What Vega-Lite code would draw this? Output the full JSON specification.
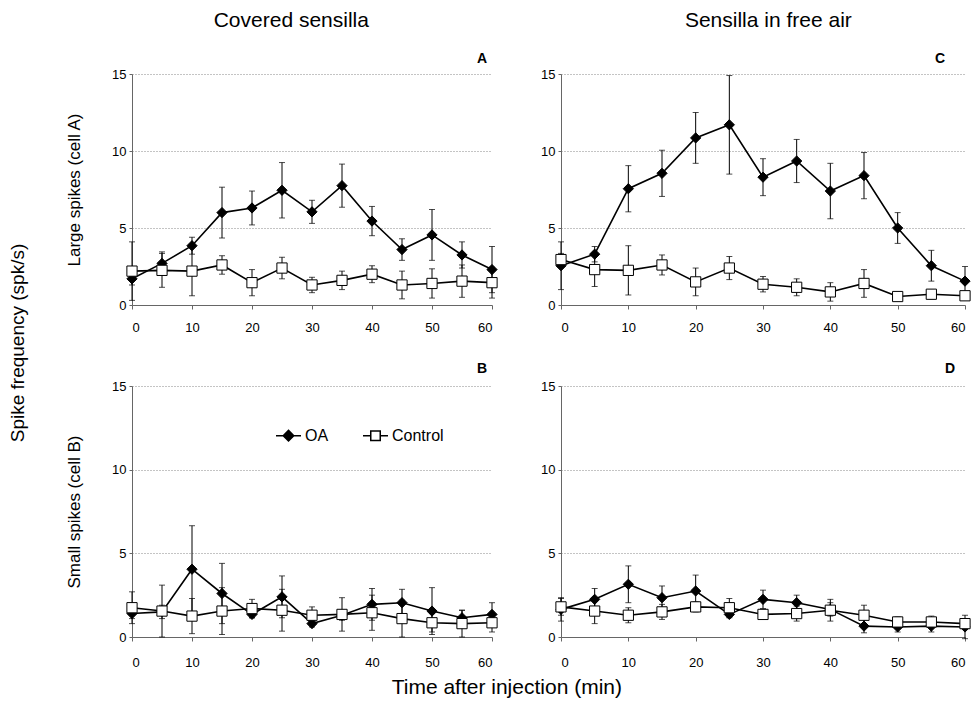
{
  "$schema": "https://vega.github.io/schema/vega-lite/v6.json",
  "background": "white",
  "padding": {"left": 8, "top": 10, "right": 2, "bottom": 0},
  "config": {
    "font": "Liberation Sans",
    "view": {"stroke": null},
    "axis": {
      "labelFont": "Liberation Sans", "labelFontSize": 13, "labelColor": "black",
      "titleFont": "Liberation Sans", "titleFontSize": 17, "titleFontWeight": "normal", "titleColor": "black",
      "domainColor": "#666", "tickColor": "#666", "gridColor": "#888", "gridDash": [1, 2], "gridWidth": 1
    },
    "title": {"font": "Liberation Sans", "fontSize": 21, "fontWeight": "normal", "color": "black"}
  },
  "datasets": {
    "d": [
      {"p":"A","s":"OA","t":0,"y":1.7,"e":0.4},{"p":"A","s":"OA","t":5,"y":2.7,"e":0.75},{"p":"A","s":"OA","t":10,"y":3.85,"e":0.55},{"p":"A","s":"OA","t":15,"y":6.0,"e":1.65},{"p":"A","s":"OA","t":20,"y":6.3,"e":1.1},{"p":"A","s":"OA","t":25,"y":7.45,"e":1.8},{"p":"A","s":"OA","t":30,"y":6.05,"e":0.75},{"p":"A","s":"OA","t":35,"y":7.75,"e":1.4},{"p":"A","s":"OA","t":40,"y":5.45,"e":0.95},{"p":"A","s":"OA","t":45,"y":3.6,"e":0.7},{"p":"A","s":"OA","t":50,"y":4.55,"e":1.65},{"p":"A","s":"OA","t":55,"y":3.25,"e":0.85},{"p":"A","s":"OA","t":60,"y":2.3,"e":1.5},
      {"p":"A","s":"Control","t":0,"y":2.2,"e":1.9},{"p":"A","s":"Control","t":5,"y":2.25,"e":1.1},{"p":"A","s":"Control","t":10,"y":2.2,"e":1.6},{"p":"A","s":"Control","t":15,"y":2.6,"e":0.6},{"p":"A","s":"Control","t":20,"y":1.45,"e":0.85},{"p":"A","s":"Control","t":25,"y":2.4,"e":0.7},{"p":"A","s":"Control","t":30,"y":1.3,"e":0.5},{"p":"A","s":"Control","t":35,"y":1.6,"e":0.6},{"p":"A","s":"Control","t":40,"y":2.0,"e":0.55},{"p":"A","s":"Control","t":45,"y":1.3,"e":0.9},{"p":"A","s":"Control","t":50,"y":1.4,"e":0.95},{"p":"A","s":"Control","t":55,"y":1.55,"e":1.05},{"p":"A","s":"Control","t":60,"y":1.45,"e":1.0},
      {"p":"C","s":"OA","t":0,"y":2.55,"e":1.55},{"p":"C","s":"OA","t":5,"y":3.3,"e":0.5},{"p":"C","s":"OA","t":10,"y":7.55,"e":1.5},{"p":"C","s":"OA","t":15,"y":8.55,"e":1.5},{"p":"C","s":"OA","t":20,"y":10.85,"e":1.65},{"p":"C","s":"OA","t":25,"y":11.7,"e":3.2},{"p":"C","s":"OA","t":30,"y":8.3,"e":1.2},{"p":"C","s":"OA","t":35,"y":9.35,"e":1.4},{"p":"C","s":"OA","t":40,"y":7.4,"e":1.8},{"p":"C","s":"OA","t":45,"y":8.4,"e":1.5},{"p":"C","s":"OA","t":50,"y":5.0,"e":1.0},{"p":"C","s":"OA","t":55,"y":2.55,"e":1.0},{"p":"C","s":"OA","t":60,"y":1.55,"e":0.95},
      {"p":"C","s":"Control","t":0,"y":2.95,"e":0.4},{"p":"C","s":"Control","t":5,"y":2.3,"e":1.1},{"p":"C","s":"Control","t":10,"y":2.25,"e":1.6},{"p":"C","s":"Control","t":15,"y":2.6,"e":0.65},{"p":"C","s":"Control","t":20,"y":1.5,"e":0.9},{"p":"C","s":"Control","t":25,"y":2.4,"e":0.75},{"p":"C","s":"Control","t":30,"y":1.35,"e":0.5},{"p":"C","s":"Control","t":35,"y":1.15,"e":0.55},{"p":"C","s":"Control","t":40,"y":0.85,"e":0.6},{"p":"C","s":"Control","t":45,"y":1.4,"e":0.9},{"p":"C","s":"Control","t":50,"y":0.55,"e":0.2},{"p":"C","s":"Control","t":55,"y":0.7,"e":0.3},{"p":"C","s":"Control","t":60,"y":0.6,"e":0.2},
      {"p":"B","s":"OA","t":0,"y":1.4,"e":0.3},{"p":"B","s":"OA","t":5,"y":1.5,"e":0.4},{"p":"B","s":"OA","t":10,"y":4.05,"e":2.6},{"p":"B","s":"OA","t":15,"y":2.6,"e":1.8},{"p":"B","s":"OA","t":20,"y":1.35,"e":0.2},{"p":"B","s":"OA","t":25,"y":2.4,"e":1.25},{"p":"B","s":"OA","t":30,"y":0.8,"e":0.2},{"p":"B","s":"OA","t":35,"y":1.3,"e":0.3},{"p":"B","s":"OA","t":40,"y":1.95,"e":0.95},{"p":"B","s":"OA","t":45,"y":2.05,"e":0.8},{"p":"B","s":"OA","t":50,"y":1.55,"e":1.4},{"p":"B","s":"OA","t":55,"y":1.15,"e":0.45},{"p":"B","s":"OA","t":60,"y":1.35,"e":0.7},
      {"p":"B","s":"Control","t":0,"y":1.75,"e":0.95},{"p":"B","s":"Control","t":5,"y":1.55,"e":1.55},{"p":"B","s":"Control","t":10,"y":1.25,"e":1.05},{"p":"B","s":"Control","t":15,"y":1.55,"e":1.4},{"p":"B","s":"Control","t":20,"y":1.7,"e":0.55},{"p":"B","s":"Control","t":25,"y":1.6,"e":1.25},{"p":"B","s":"Control","t":30,"y":1.3,"e":0.5},{"p":"B","s":"Control","t":35,"y":1.35,"e":1.0},{"p":"B","s":"Control","t":40,"y":1.45,"e":1.05},{"p":"B","s":"Control","t":45,"y":1.1,"e":1.1},{"p":"B","s":"Control","t":50,"y":0.85,"e":0.55},{"p":"B","s":"Control","t":55,"y":0.8,"e":0.8},{"p":"B","s":"Control","t":60,"y":0.85,"e":0.55},
      {"p":"D","s":"OA","t":0,"y":1.65,"e":0.7},{"p":"D","s":"OA","t":5,"y":2.25,"e":0.65},{"p":"D","s":"OA","t":10,"y":3.15,"e":1.1},{"p":"D","s":"OA","t":15,"y":2.35,"e":0.7},{"p":"D","s":"OA","t":20,"y":2.75,"e":0.95},{"p":"D","s":"OA","t":25,"y":1.35,"e":0.2},{"p":"D","s":"OA","t":30,"y":2.25,"e":0.55},{"p":"D","s":"OA","t":35,"y":2.05,"e":0.45},{"p":"D","s":"OA","t":40,"y":1.65,"e":0.4},{"p":"D","s":"OA","t":45,"y":0.65,"e":0.4},{"p":"D","s":"OA","t":50,"y":0.6,"e":0.3},{"p":"D","s":"OA","t":55,"y":0.65,"e":0.35},{"p":"D","s":"OA","t":60,"y":0.6,"e":0.7},
      {"p":"D","s":"Control","t":0,"y":1.8,"e":0.5},{"p":"D","s":"Control","t":5,"y":1.55,"e":0.75},{"p":"D","s":"Control","t":10,"y":1.3,"e":0.45},{"p":"D","s":"Control","t":15,"y":1.5,"e":0.45},{"p":"D","s":"Control","t":20,"y":1.8,"e":0.3},{"p":"D","s":"Control","t":25,"y":1.75,"e":0.55},{"p":"D","s":"Control","t":30,"y":1.35,"e":0.3},{"p":"D","s":"Control","t":35,"y":1.4,"e":0.45},{"p":"D","s":"Control","t":40,"y":1.6,"e":0.65},{"p":"D","s":"Control","t":45,"y":1.3,"e":0.6},{"p":"D","s":"Control","t":50,"y":0.9,"e":0.3},{"p":"D","s":"Control","t":55,"y":0.9,"e":0.35},{"p":"D","s":"Control","t":60,"y":0.8,"e":0.2}
    ]
  },
  "title": {"text": "Spike frequency (spk/s)", "orient": "left", "anchor": "middle", "fontSize": 19, "offset": 38, "dx": 11},
  "resolve": {"scale": {"shape": "independent", "fill": "independent", "stroke": "independent"}, "legend": {"shape": "independent", "fill": "independent", "stroke": "independent"}},
  "hconcat": [
    {
      "title": {"text": "Time after injection (min)", "orient": "bottom", "anchor": "middle", "offset": 8, "dx": -12},
      "resolve": {"scale": {"shape": "independent", "fill": "independent", "stroke": "independent"}, "legend": {"shape": "independent", "fill": "independent", "stroke": "independent"}},
      "spacing": 40,
      "hconcat": [
        {
          "title": {"text": "Covered sensilla", "anchor": "middle", "offset": 21, "dx": 9},
          "resolve": {"scale": {"shape": "independent", "fill": "independent", "stroke": "independent"}, "legend": {"shape": "independent", "fill": "independent", "stroke": "independent"}},
          "spacing": 28,
          "vconcat": [
            {
              "width": 360, "height": 231,
              "title": {"text": "A", "anchor": "end", "fontWeight": "bold", "fontSize": 14, "offset": 2, "dx": -12},
              "data": {"name": "d"},
              "transform": [{"filter": "datum.p === 'A'"}],
              "encoding": {
                "x": {"field": "t", "type": "quantitative", "scale": {"domain": [0, 60], "nice": false},
                      "axis": {"values": [0,10,20,30,40,50,60], "title": null, "grid": false, "tickSize": 4, "labelPadding": 12}},
                "y": {"field": "y", "type": "quantitative", "scale": {"domain": [0, 15], "nice": false},
                      "axis": {"values": [0,5,10,15], "title": "Large spikes (cell A)", "grid": true, "tickSize": 3, "labelPadding": 3, "titlePadding": 28}}
              },
              "layer": [
                {"mark": {"type": "errorbar", "color": "black", "ticks": {"size": 6, "color": "black"}, "rule": {"strokeWidth": 1}}, "encoding": {"yError": {"field": "e"}, "detail": {"field": "s"}}},
                {"mark": {"type": "line", "color": "black", "strokeWidth": 1.6}, "encoding": {"detail": {"field": "s"}}},
                {"mark": {"type": "point", "filled": true, "opacity": 1, "stroke": "black", "strokeWidth": 1, "size": 105},
                 "encoding": {
                   "shape": {"field": "s", "scale": {"domain": ["OA","Control"], "range": ["diamond","square"]}, "legend": null},
                   "fill": {"field": "s", "scale": {"domain": ["OA","Control"], "range": ["black","white"]}, "legend": null}
                 }}
              ]
            },
            {
              "width": 360, "height": 251,
              "title": {"text": "B", "anchor": "end", "fontWeight": "bold", "fontSize": 14, "offset": 4, "dx": -12},
              "data": {"name": "d"},
              "transform": [{"filter": "datum.p === 'B'"}],
              "encoding": {
                "x": {"field": "t", "type": "quantitative", "scale": {"domain": [0, 60], "nice": false},
                      "axis": {"values": [0,10,20,30,40,50,60], "title": null, "grid": false, "tickSize": 4, "labelPadding": 15}},
                "y": {"field": "y", "type": "quantitative", "scale": {"domain": [0, 15], "nice": false},
                      "axis": {"values": [0,5,10,15], "title": "Small spikes (cell B)", "grid": true, "tickSize": 3, "labelPadding": 3, "titlePadding": 28}}
              },
              "resolve": {"scale": {"shape": "independent", "fill": "independent", "stroke": "independent"}, "legend": {"shape": "independent", "fill": "independent", "stroke": "independent"}},
              "layer": [
                {"mark": {"type": "errorbar", "color": "black", "ticks": {"size": 6, "color": "black"}, "rule": {"strokeWidth": 1}}, "encoding": {"yError": {"field": "e"}, "detail": {"field": "s"}}},
                {"mark": {"type": "line", "color": "black", "strokeWidth": 1.6}, "encoding": {"detail": {"field": "s"}}},
                {"mark": {"type": "point", "filled": true, "opacity": 1, "stroke": "black", "strokeWidth": 1, "size": 105},
                 "encoding": {
                   "shape": {"field": "s", "scale": {"domain": ["OA","Control"], "range": ["diamond","square"]}, "legend": null},
                   "fill": {"field": "s", "scale": {"domain": ["OA","Control"], "range": ["black","white"]}, "legend": null}
                 }},
                {"transform": [{"filter": "datum.p === 'none'"}],
                 "mark": {"type": "point", "filled": true, "opacity": 1, "strokeWidth": 1.5},
                 "encoding": {
                   "shape": {"field": "s", "scale": {"domain": ["OA","Control"], "range": ["M-1,0H-0.4M0.4,0H1M0,-0.42L0.42,0L0,0.42L-0.42,0Z", "M-1,0H-0.4M0.4,0H1M-0.38,-0.38H0.38V0.38H-0.38Z"]},
                             "legend": {"title": null, "orient": "none", "legendX": 143, "legendY": 36, "direction": "horizontal", "labelFontSize": 16, "labelFont": "Liberation Sans", "labelColor": "black", "symbolSize": 625, "symbolStrokeWidth": 1.5, "columnPadding": 31, "labelOffset": 3}},
                   "fill": {"field": "s", "scale": {"domain": ["OA","Control"], "range": ["black","white"]},
                            "legend": {"title": null, "orient": "none", "legendX": 143, "legendY": 36, "direction": "horizontal", "labelFontSize": 16, "labelFont": "Liberation Sans", "labelColor": "black", "symbolSize": 625, "symbolStrokeWidth": 1.5, "columnPadding": 31, "labelOffset": 3}},
                   "stroke": {"field": "s", "scale": {"domain": ["OA","Control"], "range": ["black","black"]},
                              "legend": {"title": null, "orient": "none", "legendX": 143, "legendY": 36, "direction": "horizontal", "labelFontSize": 16, "labelFont": "Liberation Sans", "labelColor": "black", "symbolSize": 625, "symbolStrokeWidth": 1.5, "columnPadding": 31, "labelOffset": 3}}
                 }}
              ]
            }
          ]
        },
        {
          "title": {"text": "Sensilla in free air", "anchor": "middle", "offset": 21, "dx": 12},
          "resolve": {"scale": {"shape": "independent", "fill": "independent", "stroke": "independent"}, "legend": {"shape": "independent", "fill": "independent", "stroke": "independent"}},
          "spacing": 28,
          "vconcat": [
            {
              "width": 404, "height": 231,
              "title": {"text": "C", "anchor": "end", "fontWeight": "bold", "fontSize": 14, "offset": 2, "dx": -27},
              "data": {"name": "d"},
              "transform": [{"filter": "datum.p === 'C'"}],
              "encoding": {
                "x": {"field": "t", "type": "quantitative", "scale": {"domain": [0, 60], "nice": false},
                      "axis": {"values": [0,10,20,30,40,50,60], "title": null, "grid": false, "tickSize": 4, "labelPadding": 12}},
                "y": {"field": "y", "type": "quantitative", "scale": {"domain": [0, 15], "nice": false},
                      "axis": {"values": [0,5,10,15], "title": null, "grid": true, "tickSize": 3, "labelPadding": 3}}
              },
              "layer": [
                {"mark": {"type": "errorbar", "color": "black", "ticks": {"size": 6, "color": "black"}, "rule": {"strokeWidth": 1}}, "encoding": {"yError": {"field": "e"}, "detail": {"field": "s"}}},
                {"mark": {"type": "line", "color": "black", "strokeWidth": 1.6}, "encoding": {"detail": {"field": "s"}}},
                {"mark": {"type": "point", "filled": true, "opacity": 1, "stroke": "black", "strokeWidth": 1, "size": 105},
                 "encoding": {
                   "shape": {"field": "s", "scale": {"domain": ["OA","Control"], "range": ["diamond","square"]}, "legend": null},
                   "fill": {"field": "s", "scale": {"domain": ["OA","Control"], "range": ["black","white"]}, "legend": null}
                 }}
              ]
            },
            {
              "width": 404, "height": 251,
              "title": {"text": "D", "anchor": "end", "fontWeight": "bold", "fontSize": 14, "offset": 4, "dx": -17},
              "data": {"name": "d"},
              "transform": [{"filter": "datum.p === 'D'"}],
              "encoding": {
                "x": {"field": "t", "type": "quantitative", "scale": {"domain": [0, 60], "nice": false},
                      "axis": {"values": [0,10,20,30,40,50,60], "title": null, "grid": false, "tickSize": 4, "labelPadding": 15}},
                "y": {"field": "y", "type": "quantitative", "scale": {"domain": [0, 15], "nice": false},
                      "axis": {"values": [0,5,10,15], "title": null, "grid": true, "tickSize": 3, "labelPadding": 3}}
              },
              "layer": [
                {"mark": {"type": "errorbar", "color": "black", "ticks": {"size": 6, "color": "black"}, "rule": {"strokeWidth": 1}}, "encoding": {"yError": {"field": "e"}, "detail": {"field": "s"}}},
                {"mark": {"type": "line", "color": "black", "strokeWidth": 1.6}, "encoding": {"detail": {"field": "s"}}},
                {"mark": {"type": "point", "filled": true, "opacity": 1, "stroke": "black", "strokeWidth": 1, "size": 105},
                 "encoding": {
                   "shape": {"field": "s", "scale": {"domain": ["OA","Control"], "range": ["diamond","square"]}, "legend": null},
                   "fill": {"field": "s", "scale": {"domain": ["OA","Control"], "range": ["black","white"]}, "legend": null}
                 }}
              ]
            }
          ]
        }
      ]
    }
  ]
}
